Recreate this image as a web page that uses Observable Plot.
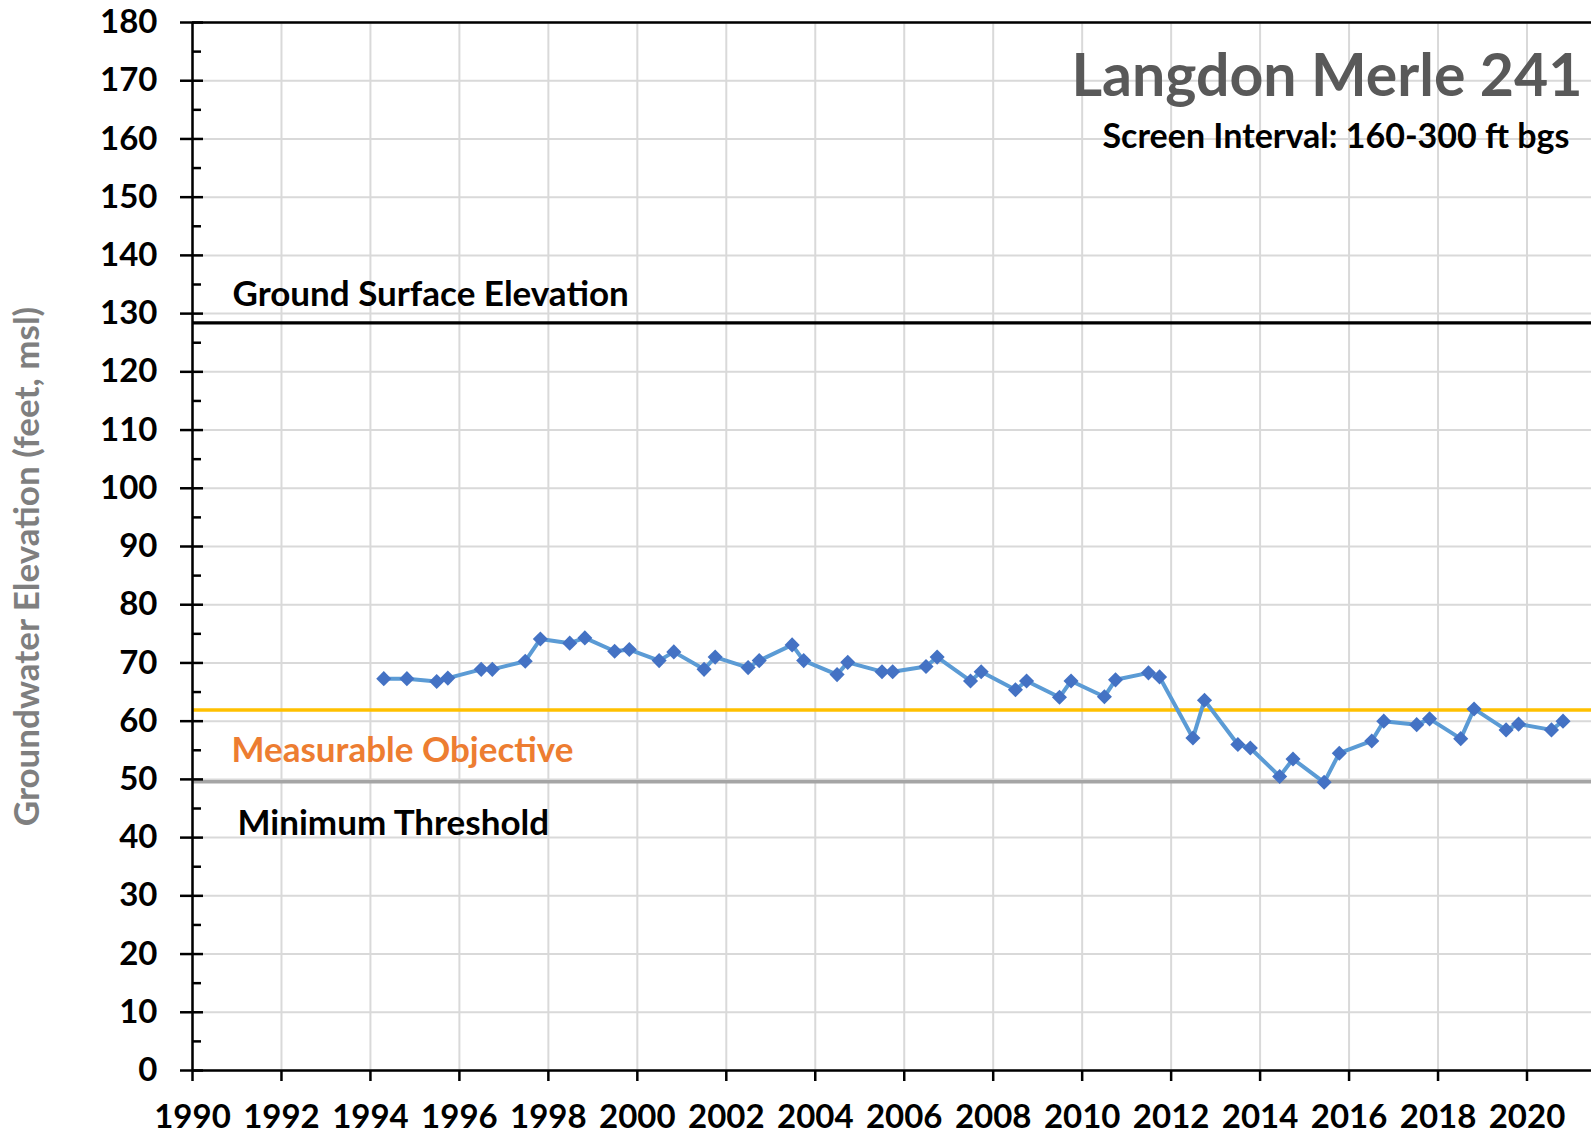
<!DOCTYPE html>
<html><head><meta charset="utf-8">
<script src="https://cdn.jsdelivr.net/npm/d3@7"></script>
<script src="https://cdn.jsdelivr.net/npm/@observablehq/plot@0.6"></script>
<style>body{margin:0;background:#fff;} svg{display:block;}</style>
</head><body><div id="chart"></div>
<script>
// Measurement dates (decimal years) and groundwater elevations (feet, msl)
const years = [1994.30, 1994.82, 1995.49, 1995.74, 1996.49, 1996.74, 1997.48, 1997.82, 1998.48, 1998.82,
  1999.49, 1999.82, 2000.49, 2000.82, 2001.50, 2001.75, 2002.49, 2002.74, 2003.48, 2003.74,
  2004.49, 2004.73, 2005.50, 2005.74, 2006.49, 2006.74, 2007.49, 2007.73, 2008.50, 2008.75,
  2009.49, 2009.75, 2010.50, 2010.75, 2011.49, 2011.74, 2012.49, 2012.75, 2013.50, 2013.78,
  2014.44, 2014.74, 2015.44, 2015.78, 2016.51, 2016.78, 2017.52, 2017.81, 2018.51, 2018.81,
  2019.53, 2019.81, 2020.55, 2020.81];
const elevations = [67.3, 67.3, 66.8, 67.4, 68.9, 68.9, 70.3, 74.1, 73.4, 74.3,
  72.0, 72.3, 70.4, 71.9, 68.9, 71.0, 69.2, 70.4, 73.1, 70.4,
  68.0, 70.1, 68.5, 68.5, 69.4, 71.0, 66.9, 68.5, 65.4, 66.9,
  64.1, 66.9, 64.2, 67.1, 68.3, 67.6, 57.1, 63.6, 56.0, 55.4,
  50.5, 53.5, 49.5, 54.5, 56.6, 60.0, 59.4, 60.4, 57.0, 62.1,
  58.5, 59.5, 58.5, 60.0];

const yearTicks = d3.range(1990, 2021, 2);
const elevTicks = d3.range(0, 181, 10);
const minorTicks = d3.range(5, 180, 10);

const groundSurface = 128.4;
const measurableObjective = 61.9;
const minimumThreshold = 49.6;

const titleText = "Langdon Merle 241";
const subtitleText = "Screen Interval: 160-300 ft bgs";
const yLabel = "Groundwater Elevation (feet, msl)";
const groundLabel = "Ground Surface Elevation";
const moLabel = "Measurable Objective";
const mtLabel = "Minimum Threshold";

const data = years.map((t, i) => ({t, v: elevations[i]}));
const font = "Lato, 'Open Sans', sans-serif";

const chart = Plot.plot({
  width: 1591, height: 1135,
  marginLeft: 192, marginRight: 0, marginTop: 22, marginBottom: 65,
  style: {fontFamily: font, background: "#fff", color: "#000"},
  x: {domain: [1990, 2021.45]},
  y: {domain: [0, 180]},
  marks: [
    Plot.gridX(yearTicks, {stroke: "#D9D9D9", strokeOpacity: 1, strokeWidth: 2}),
    Plot.gridY(elevTicks, {stroke: "#D9D9D9", strokeOpacity: 1, strokeWidth: 2}),
    Plot.ruleY([groundSurface], {stroke: "#000", strokeWidth: 3.2}),
    Plot.ruleY([measurableObjective], {stroke: "#FFC000", strokeWidth: 3.5}),
    Plot.ruleY([minimumThreshold], {stroke: "#A5A5A5", strokeWidth: 3.5}),
    Plot.ruleY([180], {stroke: "#000", strokeWidth: 2.5}),
    Plot.ruleY([0], {stroke: "#000", strokeWidth: 2.5}),
    Plot.ruleX([1990], {stroke: "#000", strokeWidth: 2.5}),
    Plot.axisY({ticks: elevTicks, tickSize: 23, dx: 11, tickPadding: 23, fontSize: 33, fontWeight: "bold",
      label: null, strokeWidth: 2.5, tickFormat: d => String(d)}),
    Plot.axisY({ticks: minorTicks, tickSize: 9, dx: 9, tickPadding: 0, label: null, strokeWidth: 2.5, tickFormat: () => ""}),
    Plot.axisX({ticks: yearTicks, tickSize: 11, tickPadding: 23, fontSize: 33, fontWeight: "bold",
      label: null, strokeWidth: 2.5, tickFormat: d => String(d)}),
    Plot.line(data, {x: "t", y: "v", stroke: "#5B9BD5", strokeWidth: 4}),
    Plot.dot(data, {x: "t", y: "v", symbol: "diamond2", r: 6.8, fill: "#4472C4", stroke: "none"}),
    Plot.text([groundSurface], {x: () => 1990, y: d => d, text: () => groundLabel, textAnchor: "start",
      dx: 40, dy: -28, fontSize: 35, fontWeight: "bold", fill: "#000"}),
    Plot.text([measurableObjective], {x: () => 1990, y: d => d, text: () => moLabel, textAnchor: "start",
      dx: 39, dy: 41, fontSize: 35, fontWeight: "bold", fill: "#ED7D31"}),
    Plot.text([minimumThreshold], {x: () => 1990, y: d => d, text: () => mtLabel, textAnchor: "start",
      dx: 45, dy: 42, fontSize: 35, fontWeight: "bold", fill: "#000"}),
    Plot.text([titleText], {frameAnchor: "top-right", text: d => d, textAnchor: "end", lineAnchor: "middle",
      dx: -9, dy: 55, fontSize: 59, fontWeight: "bold", fill: "#595959"}),
    Plot.text([subtitleText], {frameAnchor: "top-right", text: d => d, textAnchor: "end", lineAnchor: "middle",
      dx: -22, dy: 115, fontSize: 34, fontWeight: "bold", fill: "#000"}),
    Plot.text([yLabel], {frameAnchor: "left", text: d => d, rotate: -90, textAnchor: "middle", lineAnchor: "middle",
      dx: -165, dy: 20, fontSize: 35, fontWeight: "bold", fill: "#7F7F7F"})
  ]
});
document.getElementById("chart").appendChild(chart);
</script>
</body></html>
